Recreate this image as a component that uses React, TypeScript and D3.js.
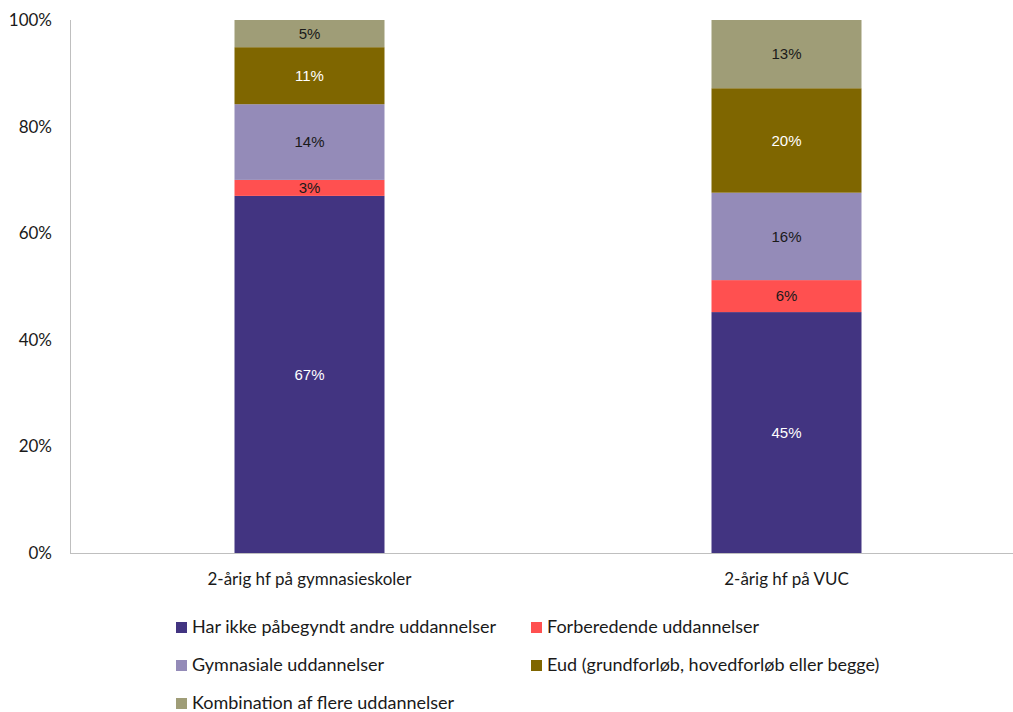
import * as d3 from "d3";

const categories = ["2-årig hf på gymnasieskoler", "2-årig hf på VUC"];
const seriesNames = [
  "Har ikke påbegyndt andre uddannelser",
  "Forberedende uddannelser",
  "Gymnasiale uddannelser",
  "Eud (grundforløb, hovedforløb eller begge)",
  "Kombination af flere uddannelser",
];
const seriesColors = ["#423481", "#FF5050", "#948BB8", "#7F6600", "#9F9D77"];
const labelColors = ["#ffffff", "#1a1a1a", "#1a1a1a", "#ffffff", "#1a1a1a"];
// values in percent, per series, per category
const values = [
  [67.0, 45.2],
  [3.0, 6.0],
  [14.2, 16.4],
  [10.7, 19.6],
  [5.1, 12.8],
];
const yTicks = [0, 0.2, 0.4, 0.6, 0.8, 1];

const W = 1013;
const H = 712;
const tickFont = "Lato, 'Noto Sans', sans-serif";
const tickSize = 17;
const legendSize = 18;

export default function App() {
  const x = d3.scaleBand().domain(categories).range([71, 1025]);
  const y = d3.scaleLinear().domain([0, 1]).range([553, 20]);
  const barW = 150;

  const rows = categories.map((c, ci) => {
    const o: any = { cat: c };
    seriesNames.forEach((s, si) => (o[s] = values[si][ci] / 100));
    return o;
  });
  const stacked = d3.stack<any>().keys(seriesNames)(rows);

  const legendPos = seriesNames.map((_, i) => ({
    x: i % 2 === 0 ? 176 : 531,
    y: 627 + Math.floor(i / 2) * 38,
  }));

  return (
    <svg
      width={W}
      height={H}
      style={{ position: "absolute", left: 0, top: 0, background: "#fff" }}
    >
      {stacked.map((layer, si) =>
        layer.map((d, ci) => {
          const cx = (x(categories[ci]) ?? 0) + x.bandwidth() / 2;
          const y0 = y(d[0]);
          const y1 = y(d[1]);
          return (
            <g key={`${si}-${ci}`}>
              <rect
                x={cx - barW / 2}
                y={y1}
                width={barW}
                height={y0 - y1}
                fill={seriesColors[si]}
              />
              <text
                x={cx}
                y={(y0 + y1) / 2}
                dy="0.35em"
                textAnchor="middle"
                fontFamily="'Liberation Sans', Arial, sans-serif"
                fontSize={15}
                fill={labelColors[si]}
              >
                {Math.round(values[si][ci])}%
              </text>
            </g>
          );
        })
      )}
      <line x1={70.5} x2={70.5} y1={20} y2={553} stroke="#bfbfbf" strokeWidth={1} />
      <line x1={70} x2={W} y1={553.5} y2={553.5} stroke="#bfbfbf" strokeWidth={1} />
      {yTicks.map((t) => (
        <text
          key={t}
          x={52}
          y={y(t)}
          dy="0.35em"
          textAnchor="end"
          fontFamily={tickFont}
          fontSize={tickSize}
          fill="#1a1a1a"
        >
          {Math.round(t * 100)}%
        </text>
      ))}
      {categories.map((c) => (
        <text
          key={c}
          x={(x(c) ?? 0) + x.bandwidth() / 2}
          y={579}
          dy="0.35em"
          textAnchor="middle"
          fontFamily={tickFont}
          fontSize={tickSize}
          fill="#1a1a1a"
        >
          {c}
        </text>
      ))}
      {seriesNames.map((s, i) => (
        <g key={s} transform={`translate(${legendPos[i].x},${legendPos[i].y})`}>
          <rect x={0} y={-5} width={11} height={11} fill={seriesColors[i]} />
          <text
            x={16}
            y={0}
            dy="0.35em"
            fontFamily={tickFont}
            fontSize={legendSize}
            fill="#1a1a1a"
          >
            {s}
          </text>
        </g>
      ))}
    </svg>
  );
}
